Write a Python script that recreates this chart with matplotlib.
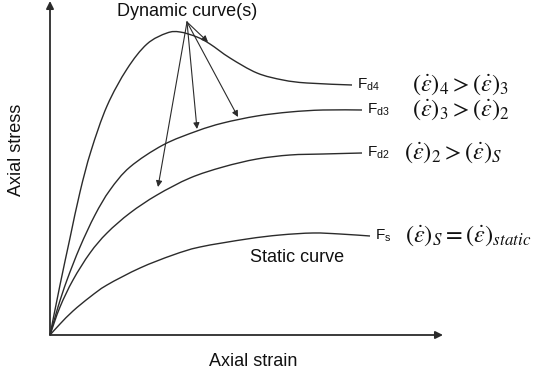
import matplotlib
matplotlib.use("Agg")
import matplotlib.pyplot as plt
from matplotlib.path import Path
from matplotlib.patches import PathPatch

plt.rcParams['font.family'] = ['Liberation Sans', 'DejaVu Sans']
plt.rcParams['mathtext.fontset'] = 'custom'
plt.rcParams['mathtext.rm'] = 'Liberation Sans'

# stress-strain curves (arbitrary units)
static_x = [0, 10, 23, 40, 57, 90, 123, 150, 197, 230, 263, 290, 320]
static_y = [0, 11, 24, 38, 50, 67, 80, 88, 96, 100, 102, 101, 99]

fd2_x = [0, 10, 23, 40, 57, 80, 107, 140, 173, 207, 240, 273, 312]
fd2_y = [0, 28, 55, 82, 102, 122, 140, 157, 168, 176, 180, 181, 182]

fd3_x = [0, 8, 17, 30, 45, 60, 80, 113, 147, 173, 207, 240, 273, 312]
fd3_y = [0, 28, 55, 88, 120, 145, 168, 190, 204, 212, 219, 223, 225, 225]

fd4_x = [0, 10, 20, 30, 41, 57, 77, 97, 117, 130, 147, 160, 180, 207, 233, 257, 302]
fd4_y = [0, 50, 97, 143, 184, 229, 266, 291, 302, 303, 298, 291, 277, 262, 255, 252, 250]

curve_names = [r'$\mathrm{F}_{\mathrm{d4}}$', r'$\mathrm{F}_{\mathrm{d3}}$',
               r'$\mathrm{F}_{\mathrm{d2}}$', r'$\mathrm{F}_{\mathrm{s}}$']
rate_labels = [r'$(\dot{\varepsilon})_4 > (\dot{\varepsilon})_3$',
               r'$(\dot{\varepsilon})_3 > (\dot{\varepsilon})_2$',
               r'$(\dot{\varepsilon})_2 > (\dot{\varepsilon})_S$',
               r'$(\dot{\varepsilon})_S = (\dot{\varepsilon})_{static}$']
rate_left = [362, 362, 354, 355]

# "Dynamic curve(s)" pointer: start and the points it marks on the curves
pointer_from = (137, 313)
pointer_to = [(158, 293), (147, 206), (188, 218), (108, 148)]

ink = '#2b2b2b'


def smooth_path(xs, ys):
    # cubic Bezier segments through the given points (Catmull-Rom tangents)
    pts = list(zip(xs, ys))
    n = len(pts)
    verts = [pts[0]]
    codes = [Path.MOVETO]
    for i in range(n - 1):
        p0 = pts[max(i - 1, 0)]
        p1 = pts[i]
        p2 = pts[i + 1]
        p3 = pts[min(i + 2, n - 1)]
        c1 = (p1[0] + (p2[0] - p0[0]) / 6, p1[1] + (p2[1] - p0[1]) / 6)
        c2 = (p2[0] - (p3[0] - p1[0]) / 6, p2[1] - (p3[1] - p1[1]) / 6)
        verts += [c1, c2, p2]
        codes += [Path.CURVE4] * 3
    return Path(verts, codes)


fig = plt.figure(figsize=(5.38, 3.78), dpi=100)
ax = fig.add_axes([0, 0, 1, 1])
ax.set_xlim(-50, 488)
ax.set_ylim(-43, 335)
ax.axis('off')

# axes drawn as arrows
ax.annotate('', xy=(393, 0), xytext=(0, 0),
            arrowprops=dict(arrowstyle='-|>', color=ink, lw=1.3,
                            mutation_scale=11, shrinkA=0, shrinkB=0))
ax.annotate('', xy=(0, 334), xytext=(0, 0),
            arrowprops=dict(arrowstyle='-|>', color=ink, lw=1.3,
                            mutation_scale=11, shrinkA=0, shrinkB=0))

curves = [(fd4_x, fd4_y), (fd3_x, fd3_y), (fd2_x, fd2_y), (static_x, static_y)]
for cx, cy in curves:
    ax.add_patch(PathPatch(smooth_path(cx, cy), facecolor='none',
                           edgecolor=ink, lw=1.0))

for (cx, cy), name, rate, left in zip(curves, curve_names, rate_labels, rate_left):
    ax.text(cx[-1] + 5, cy[-1], name, fontsize=11, ha='left', va='center', color='#111')
    ax.text(left, cy[-1], rate, fontsize=17.5, ha='left', va='center',
            color='#111', math_fontfamily='stix')

for tip in pointer_to:
    ax.annotate('', xy=tip, xytext=pointer_from,
                arrowprops=dict(arrowstyle='-|>', color=ink, lw=0.8,
                                mutation_scale=9, shrinkA=0, shrinkB=0))

ax.text(137, 323, 'Dynamic curve(s)', fontsize=13, ha='center', va='center', color='#111')
ax.text(247, 77, 'Static curve', fontsize=13, ha='center', va='center', color='#111')
ax.text(203, -27, 'Axial strain', fontsize=13, ha='center', va='center', color='#111')
ax.text(-33, 185, 'Axial stress', fontsize=13, ha='center', va='center',
        rotation=90, color='#111')

fig.savefig('out.png', dpi=100)
